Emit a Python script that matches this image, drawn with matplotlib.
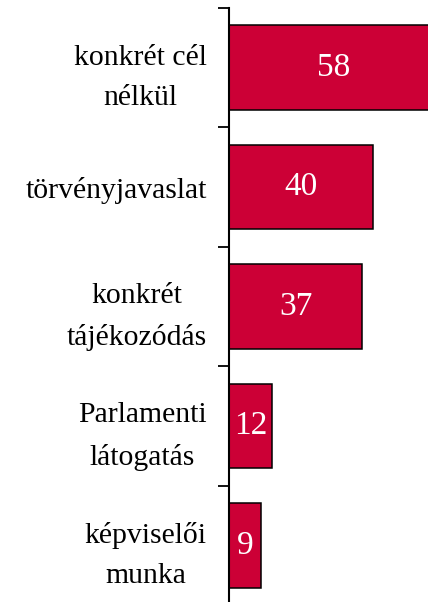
import matplotlib.pyplot as plt
import numpy as np

#-----------------------data--------------------------
categories = ['konkrét cél\nnélkül', 'törvényjavaslat', 'konkrét\ntájékozódás',
              'Parlamenti\nlátogatás', 'képviselői\nmunka']
values = [58, 40, 37, 12, 9]
barColor = '#CC0036'
#-----------------------------------------------------

plt.rcParams['font.family'] = ['Liberation Serif', 'DejaVu Serif']

fig = plt.figure(figsize=(4.28, 6.02), dpi=100)
# axis line sits at x=229px, category bands span y=8px .. 605px
ax = fig.add_axes([229/428, -3/602, 1 - 229/428, 597/602])

pos = np.arange(len(categories))
ax.barh(pos, values, height=0.71, color=barColor, edgecolor='black', linewidth=1.1)

for p, v in zip(pos, values):
    ax.text(v/2, p, str(v), color='white', fontsize=24, ha='center', va='center')

ax.set_xlim(0, (428-229)/3.6)
ax.set_ylim(len(categories)-0.5, -0.5)

ax.set_yticks(pos)
ax.set_yticklabels(categories, fontsize=21.4, linespacing=1.72, multialignment='center')
ax.tick_params(axis='y', which='major', length=0, pad=16)
ax.set_yticks(np.arange(len(categories)+1) - 0.5, minor=True)
ax.tick_params(axis='y', which='minor', length=8, width=1.3, direction='out')

ax.set_xticks([])
for s in ['top', 'right', 'bottom']:
    ax.spines[s].set_visible(False)
ax.spines['left'].set_linewidth(1.5)

fig.savefig('out.png', dpi=100)
